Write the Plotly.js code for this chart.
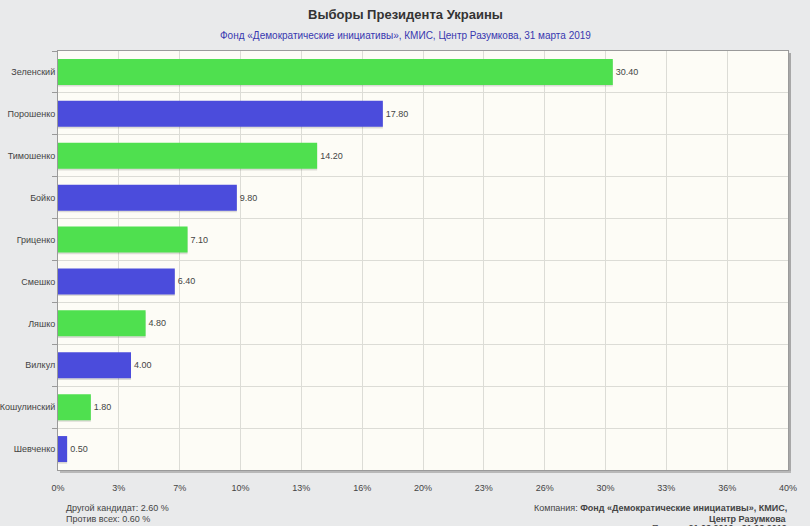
<!DOCTYPE html>
<html>
<head>
<meta charset="utf-8">
<script src="https://cdn.plot.ly/plotly-3.0.1.min.js"></script>
<style>
  html, body { margin: 0; padding: 0; background: #e9eaeb; }
  #chart { width: 810px; height: 526px; }
</style>
</head>
<body>
<div id="chart"></div>
<script>
// candidates, top to bottom
var candidates = ['Зеленский', 'Порошенко', 'Тимошенко', 'Бойко', 'Гриценко',
                  'Смешко', 'Ляшко', 'Вилкул', 'Кошулинский', 'Шевченко'];
var percents = [30.40, 17.80, 14.20, 9.80, 7.10, 6.40, 4.80, 4.00, 1.80, 0.50];
var tickLabels = ['0%', '3%', '7%', '10%', '13%', '16%', '20%', '23%', '26%', '30%', '33%', '36%', '40%'];

var green = '#4fe04f';
var blue = '#4b4cdc';
var barColors = candidates.map(function (c, i) { return i % 2 === 0 ? green : blue; });
var tickVals = tickLabels.map(function (t, i) { return i * 40 / (tickLabels.length - 1); });

var W = 810, H = 526;
var mL = 58, mR = 22, mT = 51, mB = 56;
var plotW = W - mL - mR, plotH = H - mT - mB;
function px(x) { return (x - mL) / plotW; }
function py(y) { return (H - mB - y) / plotH; }

var shadow = {
  type: 'bar',
  orientation: 'h',
  y: candidates,
  x: percents,
  width: 0.62,
  offset: -0.27,
  marker: { color: 'rgba(0,0,0,0.13)' },
  hoverinfo: 'skip'
};

var bars = {
  type: 'bar',
  orientation: 'h',
  y: candidates,
  x: percents,
  width: 0.62,
  offset: -0.31,
  marker: { color: barColors, line: { width: 0 } },
  texttemplate: '%{x:.2f}',
  textposition: 'outside',
  textfont: { size: 9, color: '#444' },
  cliponaxis: false
};

var font = '"Liberation Sans", Arial, sans-serif';

var layout = {
  width: W,
  height: H,
  margin: { l: mL, r: mR, t: mT, b: mB },
  paper_bgcolor: '#e9eaeb',
  plot_bgcolor: '#fdfcf6',
  font: { family: font, size: 9, color: '#444' },
  showlegend: false,
  barmode: 'overlay',
  xaxis: {
    range: [0, 40],
    tickvals: tickVals,
    ticktext: tickLabels,
    showgrid: true,
    gridcolor: '#dcdcd6',
    gridwidth: 1,
    zeroline: false,
    showline: true,
    linecolor: '#9a9a9a',
    linewidth: 1,
    mirror: true,
    ticks: '',
    ticklabelstandoff: 9,
    tickfont: { size: 9, color: '#444' },
    fixedrange: true
  },
  yaxis: {
    type: 'category',
    categoryorder: 'array',
    categoryarray: candidates,
    autorange: 'reversed',
    tickson: 'boundaries',
    ticks: 'outside',
    ticklen: 5,
    tickcolor: '#999',
    showgrid: true,
    gridcolor: '#dcdcd6',
    showline: true,
    linecolor: '#9a9a9a',
    linewidth: 1,
    mirror: true,
    tickfont: { size: 9, color: '#444' },
    fixedrange: true
  },
  shapes: [
    { type: 'line', xref: 'paper', yref: 'paper', x0: 1 + 2 / plotW, x1: 1 + 2 / plotW, y0: -2 / plotH, y1: 1 - 2 / plotH,
      line: { color: '#a8a8a8', width: 2 } },
    { type: 'line', xref: 'paper', yref: 'paper', x0: 2 / plotW, x1: 1 + 3 / plotW, y0: -2 / plotH, y1: -2 / plotH,
      line: { color: '#b8b8b8', width: 2 } }
  ],
  annotations: [
    { text: '<b>Выборы Президента Украины</b>', xref: 'paper', yref: 'paper', x: px(405), y: py(14),
      xanchor: 'center', yanchor: 'middle', showarrow: false, font: { size: 13, color: '#333', family: font } },
    { text: 'Фонд «Демократические инициативы», КМИС, Центр Разумкова, 31 марта 2019', xref: 'paper', yref: 'paper',
      x: px(405), y: py(35), xanchor: 'center', yanchor: 'middle', showarrow: false, font: { size: 10, color: '#3838b0', family: font } },
    { text: 'Другой кандидат: 2.60 %', xref: 'paper', yref: 'paper', x: px(64), y: py(508),
      xanchor: 'left', yanchor: 'middle', showarrow: false, font: { size: 9, color: '#444' } },
    { text: 'Против всех: 0.60 %', xref: 'paper', yref: 'paper', x: px(64), y: py(519),
      xanchor: 'left', yanchor: 'middle', showarrow: false, font: { size: 9, color: '#444' } },
    { text: 'Компания: <b>Фонд «Демократические инициативы», КМИС,</b>', xref: 'paper', yref: 'paper', x: px(789), y: py(508),
      xanchor: 'right', yanchor: 'middle', showarrow: false, font: { size: 9, color: '#444' } },
    { text: '<b>Центр Разумкова</b>', xref: 'paper', yref: 'paper', x: px(789), y: py(519),
      xanchor: 'right', yanchor: 'middle', showarrow: false, font: { size: 9, color: '#444' } },
    { text: 'Период: <b>21.03.2019 - 31.03.2019</b>', xref: 'paper', yref: 'paper', x: px(789), y: py(528),
      xanchor: 'right', yanchor: 'middle', showarrow: false, font: { size: 9, color: '#444' } }
  ]
};

Plotly.newPlot('chart', [shadow, bars], layout, { displayModeBar: false, staticPlot: true });
</script>
</body>
</html>
